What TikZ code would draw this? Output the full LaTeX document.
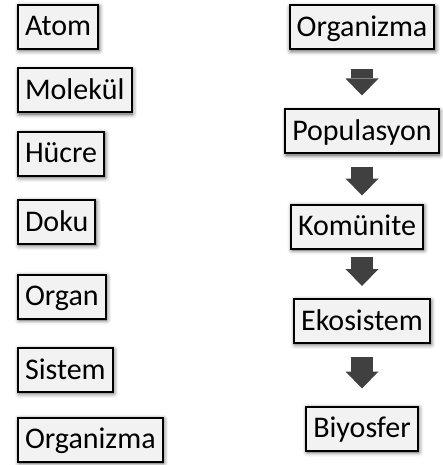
\documentclass[tikz,border=0pt]{standalone}
\usepackage{fontspec}
\setmainfont{Carlito}
\usepackage{tikz}
\usetikzlibrary{arrows.meta, shadows.blur}

\definecolor{boxfill}{HTML}{F2F2F2}
\definecolor{arrowgray}{HTML}{404040}

\tikzset{
	lvl/.style={draw=black, line width=2pt, fill=boxfill,
		font=\fontsize{30}{36}\selectfont, text height=23pt, text depth=5pt,
		minimum height=44pt, inner xsep=7pt, inner ysep=2pt,
		blur shadow={shadow xshift=1pt, shadow yshift=-1.5pt,
			shadow blur radius=4.5pt, shadow opacity=70}},
	blockarr/.style={draw=arrowgray, line width=22pt,
		-{Triangle[length=17pt, width=33pt, line width=0pt, fill=arrowgray]}}
}

\begin{document}
\begin{tikzpicture}[x=1pt, y=-1pt]

	\useasboundingbox (0,0) rectangle (443,465);

	% left column
	\node[lvl, anchor=west] (atom) at (17,27) {Atom};
	\node[lvl, anchor=west] (molekul) at (17,90.5) {Molekül};
	\node[lvl, anchor=west] (hucre) at (17,154) {Hücre};
	\node[lvl, anchor=west] (doku) at (17,222) {Doku};
	\node[lvl, anchor=west] (organ) at (17,296.5) {Organ};
	\node[lvl, anchor=west] (sistem) at (17,370) {Sistem};
	\node[lvl, anchor=west] (organizmaL) at (17,439.5) {Organizma};

	% right column
	\node[lvl] (organizmaR) at (362,27.5) {Organizma};
	\node[lvl] (populasyon) at (362,131.5) {Populasyon};
	\node[lvl] (komunite) at (357,226.5) {Komünite};
	\node[lvl] (ekosistem) at (362,321) {Ekosistem};
	\node[lvl] (biyosfer) at (362,428.5) {Biyosfer};

	\draw[blockarr] ([yshift=-19pt]organizmaR.south) -- ([yshift=13pt]populasyon.north);
	\draw[blockarr] ([yshift=-12pt]populasyon.south) -- ([xshift=5pt, yshift=8pt]komunite.north);
	\draw[blockarr] ([xshift=5pt, yshift=-7pt]komunite.south) -- ([yshift=12pt]ekosistem.north);
	\draw[blockarr] ([yshift=-13pt]ekosistem.south) -- ([yshift=17pt]biyosfer.north);

\end{tikzpicture}
\end{document}
